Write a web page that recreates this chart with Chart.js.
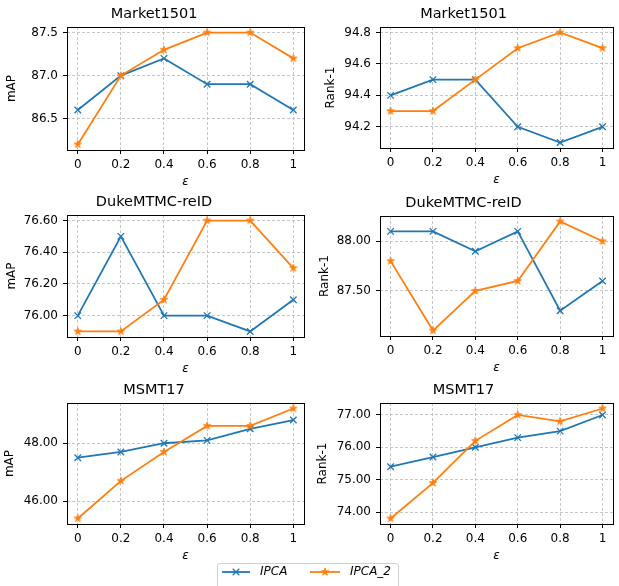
<!DOCTYPE html>
<html>
<head>
<meta charset="utf-8">
<script src="https://cdn.jsdelivr.net/npm/chart.js@4.4.0/dist/chart.umd.min.js"></script>
<style>
  html, body { margin: 0; padding: 0; background: #fff; }
  #wrap { position: relative; width: 619px; height: 586px; overflow: hidden; }
  #wrap canvas { position: absolute; }
</style>
</head>
<body>
<div id="wrap"></div>
<script>
// epsilon on the x axis
const epsValues = [0, 0.2, 0.4, 0.6, 0.8, 1];
const epsLabels = ['0', '0.2', '0.4', '0.6', '0.8', '1'];
const seriesNames = ['IPCA', 'IPCA_2'];

// Market1501
const marketMapIpca = [86.6, 87.0, 87.2, 86.9, 86.9, 86.6];
const marketMapIpca2 = [86.2, 87.0, 87.3, 87.5, 87.5, 87.2];
const marketRankIpca = [94.4, 94.5, 94.5, 94.2, 94.1, 94.2];
const marketRankIpca2 = [94.3, 94.3, 94.5, 94.7, 94.8, 94.7];
// DukeMTMC-reID
const dukeMapIpca = [76.0, 76.5, 76.0, 76.0, 75.9, 76.1];
const dukeMapIpca2 = [75.9, 75.9, 76.1, 76.6, 76.6, 76.3];
const dukeRankIpca = [88.1, 88.1, 87.9, 88.1, 87.3, 87.6];
const dukeRankIpca2 = [87.8, 87.1, 87.5, 87.6, 88.2, 88.0];
// MSMT17
const msmtMapIpca = [47.5, 47.7, 48.0, 48.1, 48.5, 48.8];
const msmtMapIpca2 = [45.4, 46.7, 47.7, 48.6, 48.6, 49.2];
const msmtRankIpca = [75.4, 75.7, 76.0, 76.3, 76.5, 77.0];
const msmtRankIpca2 = [73.8, 74.9, 76.2, 77.0, 76.8, 77.2];

// y tick values
const marketMapTicks = [86.5, 87.0, 87.5];
const marketRankTicks = [94.2, 94.4, 94.6, 94.8];
const dukeMapTicks = [76.0, 76.2, 76.4, 76.6];
const dukeRankTicks = [87.5, 88.0];
const msmtMapTicks = [46, 48];
const msmtRankTicks = [74, 75, 76, 77];

const BLUE = '#1f77b4';
const ORANGE = '#ff7f0e';
const FONT = "'DejaVu Sans', sans-serif";

Chart.defaults.font.family = FONT;
Chart.defaults.color = '#000';

// panels: plot rectangle in page px [left, top, right, bottom], ylabel centre x
const panels = [
  { title: 'Market1501', yTitle: 'mAP', a: marketMapIpca, b: marketMapIpca2, ticks: marketMapTicks, dec: 1,
    col: 0, plot: [67, 27, 308, 150], labelX: 12 },
  { title: 'Market1501', yTitle: 'Rank-1', a: marketRankIpca, b: marketRankIpca2, ticks: marketRankTicks, dec: 1,
    col: 1, plot: [380, 27, 617, 148], labelX: 331 },
  { title: 'DukeMTMC-reID', yTitle: 'mAP', a: dukeMapIpca, b: dukeMapIpca2, ticks: dukeMapTicks, dec: 2,
    col: 0, plot: [67, 215, 308, 337], labelX: 12 },
  { title: 'DukeMTMC-reID', yTitle: 'Rank-1', a: dukeRankIpca, b: dukeRankIpca2, ticks: dukeRankTicks, dec: 2,
    col: 1, plot: [380, 216, 617, 336], labelX: 325 },
  { title: 'MSMT17', yTitle: 'mAP', a: msmtMapIpca, b: msmtMapIpca2, ticks: msmtMapTicks, dec: 2,
    col: 0, plot: [67, 403, 308, 524], labelX: 10 },
  { title: 'MSMT17', yTitle: 'Rank-1', a: msmtRankIpca, b: msmtRankIpca2, ticks: msmtRankTicks, dec: 2,
    col: 1, plot: [380, 403, 617, 524], labelX: 323 },
];

function starImage(color, r) {
  const c = document.createElement('canvas');
  const s = Math.ceil(r * 2 + 2);
  c.width = c.height = s;
  const g = c.getContext('2d');
  g.beginPath();
  for (let i = 0; i < 10; i++) {
    const rad = i % 2 ? r * 0.382 : r;
    const ang = -Math.PI / 2 + i * Math.PI / 5;
    g.lineTo(s / 2 + rad * Math.cos(ang), s / 2 + rad * Math.sin(ang));
  }
  g.closePath();
  g.fillStyle = color;
  g.fill();
  g.strokeStyle = color;
  g.lineWidth = 0.8;
  g.stroke();
  return c;
}
const starPoint = starImage(ORANGE, 4.0);

// black frame round the plot area (all four spines)
const framePlugin = {
  id: 'frame',
  afterDatasetsDraw(chart) {
    const { ctx, chartArea: a } = chart;
    ctx.save();
    ctx.strokeStyle = '#000';
    ctx.lineWidth = 1;
    ctx.strokeRect(Math.round(a.left) + 0.5, Math.round(a.top) + 0.5,
      Math.round(a.right - a.left), Math.round(a.bottom - a.top));
    ctx.restore();
  }
};

const wrap = document.getElementById('wrap');
const TITLE_H = 27;
const XAXIS_H = 40;

panels.forEach((p) => {
  const colLeft = p.col === 0 ? 0 : 310;
  const colWidth = p.col === 0 ? 310 : 309;
  const [pl, pt, pr, pb] = p.plot;
  const top = pt - TITLE_H;
  const height = (pb - pt) + TITLE_H + XAXIS_H;

  const canvas = document.createElement('canvas');
  canvas.style.left = colLeft + 'px';
  canvas.style.top = top + 'px';
  canvas.style.width = colWidth + 'px';
  canvas.style.height = height + 'px';
  canvas.width = colWidth;
  canvas.height = height;
  wrap.appendChild(canvas);

  const all = p.a.concat(p.b);
  const lo = Math.min(...all);
  const hi = Math.max(...all);
  const margin = (hi - lo) * 0.05;

  new Chart(canvas, {
    type: 'line',
    data: {
      datasets: [
        {
          label: seriesNames[0],
          data: epsValues.map((x, i) => ({ x: x, y: p.a[i] })),
          borderColor: BLUE,
          backgroundColor: BLUE,
          borderWidth: 1.8,
          pointStyle: 'crossRot',
          pointRadius: 4.6,
          pointBorderWidth: 1.3,
          pointBorderColor: BLUE,
          order: 1,
        },
        {
          label: seriesNames[1],
          data: epsValues.map((x, i) => ({ x: x, y: p.b[i] })),
          borderColor: ORANGE,
          backgroundColor: ORANGE,
          borderWidth: 1.8,
          pointStyle: starPoint,
          order: 0,
        },
      ]
    },
    options: {
      responsive: false,
      animation: false,
      events: [],
      layout: { padding: { left: 0, top: 0, bottom: 0, right: colWidth - (pr - colLeft) } },
      scales: {
        x: {
          type: 'linear',
          min: -0.05,
          max: 1.05,
          afterBuildTicks: (scale) => { scale.ticks = epsValues.map((v) => ({ value: v })); },
          afterFit: (scale) => { scale.height = XAXIS_H; },
          ticks: {
            padding: 3.5,
            color: '#000',
            font: { size: 12 },
            callback: (v, i) => epsLabels[i],
          },
          grid: {
            color: '#b8b8b8',
            lineWidth: 0.8,
            tickLength: 4,
            tickColor: '#000',
            tickWidth: 1,
            tickBorderDash: [],
          },
          border: { display: false, dash: [3, 2] },
          title: {
            display: true,
            text: 'ε',
            font: { size: 12, style: 'italic' },
            color: '#000',
            padding: { top: 0, bottom: 1 },
          },
        },
        y: {
          type: 'linear',
          min: lo - margin,
          max: hi + margin,
          afterBuildTicks: (scale) => { scale.ticks = p.ticks.map((v) => ({ value: v })); },
          afterFit: (scale) => { scale.width = pl - colLeft; },
          ticks: {
            padding: 5,
            color: '#000',
            font: { size: 12 },
            callback: (v) => v.toFixed(p.dec),
          },
          grid: {
            color: '#b8b8b8',
            lineWidth: 0.8,
            tickLength: 4,
            tickColor: '#000',
            tickWidth: 1,
            tickBorderDash: [],
          },
          border: { display: false, dash: [3, 2] },
          title: {
            display: true,
            text: p.yTitle,
            font: { size: 12 },
            color: '#000',
            padding: { top: (p.labelX - colLeft) - 7.2, bottom: 0 },
          },
        },
      },
      plugins: {
        legend: { display: false },
        tooltip: { enabled: false },
        title: {
          display: true,
          text: p.title,
          color: '#000',
          font: { size: 14.5, weight: 'normal', lineHeight: 1.2 },
          padding: { top: 5.5, bottom: 4.1 },
        },
      },
    },
    plugins: [framePlugin],
  });
});

// legend below the grid, spanning both columns
(function drawLegend() {
  const c = document.createElement('canvas');
  const L = 210, T = 555, W = 200, H = 31;
  c.style.left = L + 'px';
  c.style.top = T + 'px';
  c.style.width = W + 'px';
  c.style.height = H + 'px';
  c.width = W;
  c.height = H;
  wrap.appendChild(c);
  const g = c.getContext('2d');

  // frame
  const bx = 7.5, by = 8.5, bw = 181, bh = 24, r = 2.5;
  g.beginPath();
  g.moveTo(bx + r, by);
  g.lineTo(bx + bw - r, by);
  g.quadraticCurveTo(bx + bw, by, bx + bw, by + r);
  g.lineTo(bx + bw, by + bh);
  g.lineTo(bx, by + bh);
  g.lineTo(bx, by + r);
  g.quadraticCurveTo(bx, by, bx + r, by);
  g.fillStyle = 'rgba(255,255,255,0.8)';
  g.fill();
  g.strokeStyle = '#d0d0d0';
  g.lineWidth = 1;
  g.stroke();

  const cy = 17;
  const entries = [
    { x0: 12, x1: 40, tx: 50, color: BLUE, text: seriesNames[0], mark: 'cross' },
    { x0: 100, x1: 130, tx: 140, color: ORANGE, text: seriesNames[1], mark: 'star' },
  ];
  entries.forEach((e) => {
    g.strokeStyle = e.color;
    g.lineWidth = 1.8;
    g.beginPath();
    g.moveTo(e.x0, cy);
    g.lineTo(e.x1, cy);
    g.stroke();
    const mx = (e.x0 + e.x1) / 2;
    if (e.mark === 'cross') {
      const d = 3.3;
      g.lineWidth = 1.3;
      g.beginPath();
      g.moveTo(mx - d, cy - d); g.lineTo(mx + d, cy + d);
      g.moveTo(mx - d, cy + d); g.lineTo(mx + d, cy - d);
      g.stroke();
    } else {
      g.drawImage(starPoint, mx - starPoint.width / 2, cy - starPoint.height / 2);
    }
    g.fillStyle = '#000';
    g.font = "italic 12px 'DejaVu Sans', sans-serif";
    g.textBaseline = 'middle';
    g.fillText(e.text, e.tx, cy);
  });
})();
</script>
</body>
</html>
